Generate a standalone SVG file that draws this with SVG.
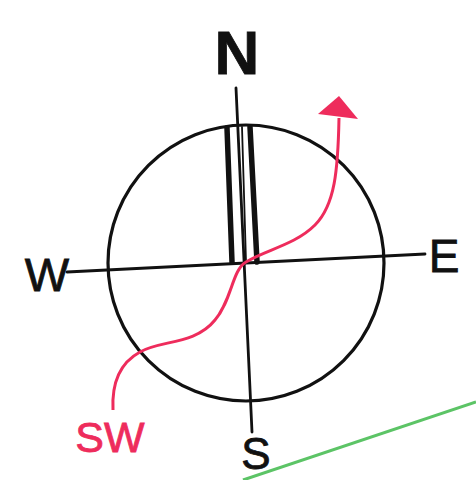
<svg xmlns="http://www.w3.org/2000/svg" width="476" height="480" viewBox="0 0 476 480">
<style>
.k{fill:none;stroke:#111;stroke-linecap:round}
.lbl{font-family:"Liberation Sans",Arial,sans-serif;fill:#111;stroke:#111;stroke-width:0.8}
.red{fill:#ee2c5c;stroke:#ee2c5c}
</style>
<rect width="476" height="480" fill="#fff"/>
<g id="compass">
<circle cx="246" cy="263" r="138" class="k" stroke-width="3.2"/>
<line x1="236" y1="88" x2="252" y2="432" class="k" stroke-width="2.8"/>
<line x1="67" y1="272" x2="425" y2="254" class="k" stroke-width="2.8"/>
</g>
<g id="needle">
<line x1="227" y1="128" x2="232" y2="262" class="k" stroke-width="5.5"/>
<line x1="250" y1="127" x2="257" y2="262" class="k" stroke-width="5.5"/>
<line x1="242" y1="127" x2="246" y2="262" class="k" stroke-width="1.8"/>
</g>
<g id="connectors">
<path d="M113,410 C112,390 116,365 140,352 C160,340 195,345 215,320 C232,300 232,270 246,262 C265,250 295,245 315,225 C335,205 338,170 339,118" fill="none" stroke="#ee2c5c" stroke-width="3"/>
<polygon points="339,96 318,114 358,119" fill="#ee2c5c"/>
<line x1="243" y1="480" x2="476" y2="402" stroke="#5cc466" stroke-width="3"/>
</g>
<g id="labels">
<text x="237" y="74" class="lbl" font-size="62" font-weight="bold" text-anchor="middle">N</text>
<text x="47" y="291" class="lbl" font-size="47" text-anchor="middle">W</text>
<text x="444" y="272" class="lbl" font-size="46" text-anchor="middle">E</text>
<text x="256" y="469" class="lbl" font-size="44" text-anchor="middle">S</text>
<text x="110" y="452" class="lbl red" font-size="43" text-anchor="middle">SW</text>
</g>
</svg>
